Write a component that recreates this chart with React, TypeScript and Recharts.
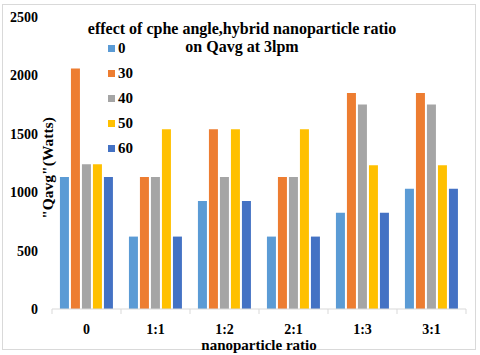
import { Bar, BarChart, XAxis, YAxis } from "recharts";

const categories = ["0", "1:1", "1:2", "2:1", "1:3", "3:1"];
const seriesNames = ["0", "30", "40", "50", "60"];
const angle0 = [1130, 620, 925, 620, 825, 1030];
const angle30 = [2060, 1130, 1540, 1130, 1850, 1850];
const angle40 = [1240, 1130, 1130, 1130, 1750, 1750];
const angle50 = [1240, 1540, 1540, 1540, 1230, 1230];
const angle60 = [1130, 620, 925, 620, 825, 1030];
const yTicks = [0, 500, 1000, 1500, 2000, 2500];

const colors = ["#5B9BD5", "#ED7D31", "#A5A5A5", "#FFC000", "#4472C4"];
const font = "'Liberation Serif', 'Times New Roman', 'DejaVu Serif', serif";

const data = categories.map((c, i) => ({
  ratio: c,
  s0: angle0[i],
  s30: angle30[i],
  s40: angle40[i],
  s50: angle50[i],
  s60: angle60[i],
}));
const keys = ["s0", "s30", "s40", "s50", "s60"];

const HALF_BAND = (480 - 52 - 14) / 6 / 2;

function XTick(props: any) {
  const { x, y, payload, index, visibleTicksCount } = props;
  const axisY = y - 8;
  return (
    <g>
      <line x1={x - HALF_BAND} x2={x - HALF_BAND} y1={axisY} y2={axisY + 5} stroke="#d9d9d9" />
      {index === visibleTicksCount - 1 && (
        <line x1={x + HALF_BAND} x2={x + HALF_BAND} y1={axisY} y2={axisY + 5} stroke="#d9d9d9" />
      )}
      <text x={x} y={y} dy={17} textAnchor="middle" fontFamily={font} fontWeight="bold" fontSize={14} fill="#000">
        {payload.value}
      </text>
    </g>
  );
}

function YTitle(props: any) {
  const vb = props.viewBox || { x: 0, y: 17, width: 52, height: 292 };
  const cx = 47;
  const cy = vb.y + vb.height / 2 + 5;
  return (
    <text
      x={cx}
      y={cy}
      transform={`rotate(-90 ${cx} ${cy})`}
      textAnchor="middle"
      dominantBaseline="central"
      fontFamily={font}
      fontWeight="bold"
      fontSize={15.5}
      fill="#000"
    >
      "Qavg"(Watts)
    </text>
  );
}

export default function App() {
  return (
    <div style={{ position: "absolute", left: 0, top: 0, width: 480, height: 355, background: "#fff" }}>
      <div
        style={{
          position: "absolute",
          left: 2,
          top: 4,
          width: 472,
          height: 344,
          border: "1px solid #d9d9d9",
        }}
      />
      <BarChart
        width={480}
        height={355}
        data={data}
        margin={{ top: 17, right: 14, left: 0, bottom: 0 }}
        barCategoryGap="11.5%"
        barGap={2}
      >
        <XAxis
          dataKey="ratio"
          height={46}
          axisLine={{ stroke: "#d9d9d9" }}
          tickLine={false}
          tick={<XTick />}
          interval={0}
          label={{
            value: "nanoparticle ratio",
            position: "insideBottom",
            offset: 5,
            style: { fontFamily: font, fontWeight: "bold", fontSize: 15, fill: "#000" },
          }}
        />
        <YAxis
          width={52}
          domain={[0, 2500]}
          ticks={yTicks}
          axisLine={false}
          tickLine={false}
          tickMargin={8}
          tick={{ fontFamily: font, fontWeight: "bold", fontSize: 14, fill: "#000" }}
          label={<YTitle />}
        />
        {keys.map((k, i) => (
          <Bar key={k} dataKey={k} name={seriesNames[i]} fill={colors[i]} isAnimationActive={false} />
        ))}
      </BarChart>
      <div
        style={{
          position: "absolute",
          left: 108,
          top: 36,
          fontFamily: font,
          fontWeight: "bold",
          fontSize: 15,
          color: "#000",
        }}
      >
        {seriesNames.map((n, i) => (
          <div key={n} style={{ height: 25, display: "flex", alignItems: "center" }}>
            <span style={{ width: 7, height: 7, background: colors[i], marginRight: 3, display: "inline-block" }} />
            {n}
          </div>
        ))}
      </div>
      <div
        style={{
          position: "absolute",
          left: 0,
          top: 20,
          width: 480,
          textAlign: "center",
          fontFamily: font,
          fontWeight: "bold",
          fontSize: 16,
          lineHeight: "18px",
          color: "#000",
          paddingLeft: 2,
        }}
      >
        effect of cphe angle,hybrid nanoparticle ratio
        <br />
        on Qavg at 3lpm
      </div>
    </div>
  );
}
